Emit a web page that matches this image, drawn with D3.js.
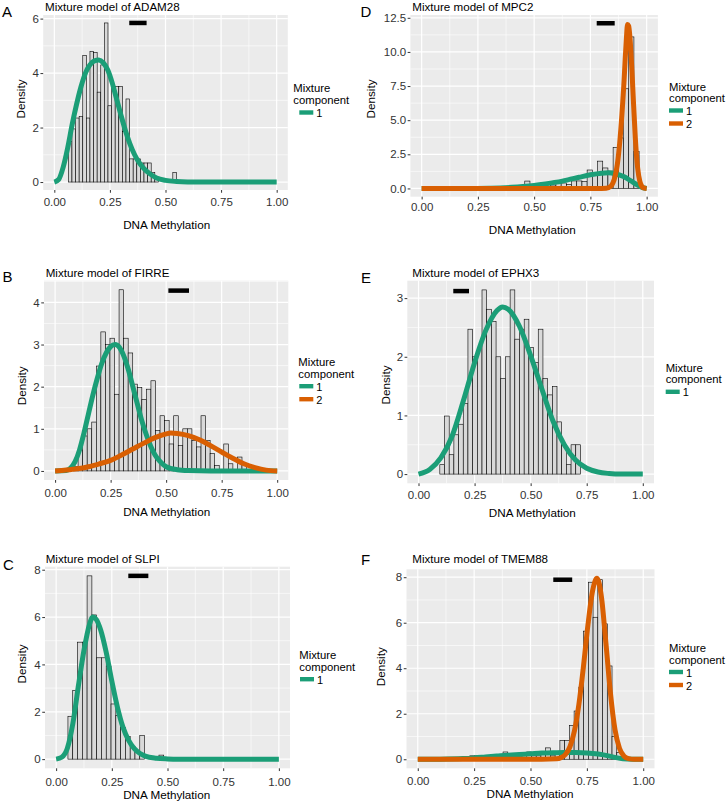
<!DOCTYPE html>
<html><head><meta charset="utf-8">
<script src="https://cdn.jsdelivr.net/npm/d3@7"></script>
<style>
body{margin:0;background:#fff;}
svg{display:block;font-family:"Liberation Sans",Arial,Helvetica,sans-serif;}
</style></head><body>
<svg id="c" width="728" height="803"></svg>
<script>
// ---------------- data ----------------
const panelLetters = ["A","B","C","D","E","F"];
const genes = ["ADAM28","FIRRE","SLPI","MPC2","EPHX3","TMEM88"];
const componentNames = ["1","2"];
const xTicks = [0,0.25,0.5,0.75,1];
const xTickLabels = ["0.00","0.25","0.50","0.75","1.00"];
const yTicksA = [0,2,4,6];
const yTicksB = [0,1,2,3,4];
const yTicksC = [0,2,4,6,8];
const yTicksD = [0,2.5,5,7.5,10,12.5];
const yTicksE = [0,1,2,3];
const yTicksF = [0,2,4,6,8];
const yLabelsD = ["0.0","2.5","5.0","7.5","10.0","12.5"];

// histogram bins: first edge, width, densities
const histStart = [0.0631, 0.083, 0.053, 0.2735, 0.095, 0.231];
const histWidth = [0.0162, 0.0205, 0.0215, 0.0231, 0.0209, 0.02102];
const densA = [1.5,1.95,2.35,2.4,4.65,2.35,4.8,4.75,3.3,4.3,5.84,2.8,3.5,3.5,3.5,1.85,3.05,0.85,0.85,0.85,0.7,0.7,0.7,0.35,0.15,0,0,0,0,0.35];
const densB = [0.1,0.5,0.83,1.0,1.16,2.49,3.3,3.0,3.15,1.82,4.3,3.15,2.8,2.06,1.98,1.7,1.94,2.14,0.96,1.31,1.2,0.64,1.31,0.6,1.0,1.0,0.72,0.57,1.31,0.72,0.41,0.13,0,0.64,0.17,0,0.33,0.17];
const densC = [1.81,2.9,4.94,4.94,7.74,6.09,4.28,4.28,3.93,2.33,1.85,1.34,0.96,0.54,0.32,0.99,0,0,0,0.17];
const densD = [0.12,0,0,0.1,0,0.15,0,0.12,0.54,0.12,0.25,0.4,0.3,0.25,0.4,0.4,0.3,0.55,0.55,0.5,1.35,0.96,2.0,1.5,1.27,3.0,3.7,7.3,11.1,2.7];
const densE = [0.16,0.99,0.33,0.67,0.85,1.2,2.47,2.0,2.16,3.14,2.81,2.6,2.0,1.63,2.0,3.14,2.3,2.47,2.64,2.16,1.9,2.47,1.63,1.35,1.49,0.89,0.5,0.16,0.5,0.5];
const densF = [0.15,0.15,0,0,0.15,0,0,0.32,0,0.15,0.15,0,0.32,0.15,0.15,0.28,0.5,0.15,0.3,0.83,0.83,1.49,2.12,3.17,5.63,7.78,6.24,7.89,5.95,4.1,1.0,0.3];

// mixture component curves: [x, density]
const comp1A = [[0,0],[0.02,0.1],[0.04,0.55],[0.06,1.25],[0.08,2.1],[0.1,2.85],[0.12,3.5],[0.14,4.0],[0.16,4.3],[0.18,4.45],[0.2,4.48],[0.22,4.38],[0.24,4.12],[0.26,3.65],[0.28,3.05],[0.3,2.45],[0.32,1.88],[0.34,1.4],[0.36,1.02],[0.38,0.73],[0.4,0.52],[0.43,0.3],[0.46,0.15],[0.5,0.06],[0.55,0.02],[0.6,0.005],[0.7,0],[1,0]];
const comp1B = [[0,0],[0.05,0.01],[0.07,0.07],[0.09,0.22],[0.11,0.5],[0.13,0.9],[0.15,1.35],[0.17,1.8],[0.19,2.2],[0.21,2.55],[0.23,2.8],[0.25,2.95],[0.27,3.0],[0.29,2.93],[0.31,2.72],[0.33,2.4],[0.35,2.0],[0.37,1.6],[0.39,1.2],[0.41,0.87],[0.43,0.59],[0.45,0.38],[0.47,0.24],[0.5,0.1],[0.55,0.03],[0.6,0.01],[0.7,0],[1,0]];
const comp2B = [[0,0],[0.05,0.02],[0.1,0.05],[0.15,0.1],[0.2,0.17],[0.25,0.25],[0.3,0.38],[0.35,0.52],[0.4,0.66],[0.45,0.79],[0.5,0.88],[0.52,0.9],[0.55,0.89],[0.6,0.84],[0.65,0.74],[0.7,0.6],[0.75,0.45],[0.8,0.3],[0.85,0.17],[0.9,0.08],[0.95,0.02],[1,0]];
const comp1C = [[0,0],[0.025,0.08],[0.05,0.45],[0.075,1.5],[0.1,3.1],[0.125,4.6],[0.15,5.7],[0.165,6.0],[0.18,5.9],[0.2,5.45],[0.225,4.5],[0.25,3.3],[0.275,2.2],[0.3,1.35],[0.325,0.8],[0.35,0.45],[0.375,0.25],[0.4,0.13],[0.45,0.04],[0.5,0.01],[0.55,0],[1,0]];
const comp1D = [[0,0],[0.2,0],[0.3,0.02],[0.35,0.04],[0.4,0.08],[0.45,0.14],[0.5,0.22],[0.55,0.33],[0.6,0.46],[0.65,0.63],[0.7,0.82],[0.75,1.0],[0.8,1.12],[0.83,1.15],[0.86,1.08],[0.9,0.85],[0.93,0.55],[0.96,0.25],[0.98,0.08],[1,0]];
const comp2D = [[0,0],[0.78,0],[0.82,0.02],[0.84,0.15],[0.85,0.4],[0.86,0.9],[0.87,1.8],[0.88,3.3],[0.89,5.4],[0.9,8.0],[0.905,9.6],[0.91,11.0],[0.915,12.0],[0.92,11.9],[0.925,11.2],[0.93,10.0],[0.935,8.5],[0.94,6.8],[0.95,3.6],[0.96,1.5],[0.97,0.5],[0.98,0.12],[0.99,0.02],[1,0]];
const comp1E = [[0,0],[0.05,0.08],[0.1,0.28],[0.15,0.65],[0.2,1.25],[0.25,1.9],[0.3,2.45],[0.35,2.79],[0.375,2.85],[0.4,2.81],[0.45,2.52],[0.5,2.02],[0.55,1.45],[0.6,0.9],[0.65,0.5],[0.7,0.24],[0.75,0.1],[0.8,0.035],[0.85,0.01],[0.9,0],[1,0]];
const comp1F = [[0,0],[0.1,0.005],[0.2,0.03],[0.25,0.06],[0.3,0.1],[0.35,0.14],[0.4,0.18],[0.45,0.21],[0.5,0.24],[0.55,0.27],[0.6,0.29],[0.65,0.3],[0.7,0.3],[0.75,0.28],[0.8,0.23],[0.85,0.14],[0.88,0.07],[0.91,0.02],[0.95,0],[1,0]];
const comp2F = [[0,0],[0.55,0],[0.615,0.02],[0.635,0.07],[0.655,0.21],[0.675,0.55],[0.695,1.25],[0.715,2.44],[0.735,4.09],[0.755,5.92],[0.775,7.38],[0.795,7.95],[0.815,7.1],[0.835,5.05],[0.855,2.87],[0.875,1.29],[0.895,0.47],[0.915,0.135],[0.935,0.03],[0.96,0],[1,0]];

// black range bars
const segX1 = [0.337,0.51,0.324,0.778,0.155,0.601];
const segX2 = [0.415,0.603,0.414,0.858,0.225,0.685];
const segY  = [5.84,4.28,7.74,12.1,3.12,7.89];

// ---------------- layout (pixels) ----------------
const layout = [
 {L:43.2,R:287.8,T:15,B:190,letter:[2,16.7],title:[45,11],xlab:[166.7,229.3],xtick:205.5,ylab:[20.7,99],leg:{x:293.3,y1:92.3,y2:104,k:[112.5],kx:299.3}},
 {L:44,R:288.3,T:280.7,B:480,letter:[2.5,281.5],title:[45.7,277.3],xlab:[166.7,515.7],xtick:496.5,ylab:[21.7,385.8],leg:{x:298.3,y1:366,y2:377.7,k:[386.2,399.2],kx:299.3}},
 {L:45,R:290,T:566.7,B:768.3,letter:[3,570],title:[45.7,563.3],xlab:[166.7,799.3],xtick:786,ylab:[21.7,664],leg:{x:299.3,y1:659,y2:670.7,k:[679.2],kx:300}},
 {L:410.4,R:657.9,T:15,B:196.7,letter:[360.5,16.7],title:[412.3,11],xlab:[532.3,234.3],xtick:211,ylab:[370.7,99],leg:{x:669,y1:90.5,y2:102,k:[110.5,123.5],kx:669}},
 {L:407.3,R:654,T:280.7,B:483.3,letter:[361,283],title:[412.3,277.3],xlab:[532.3,516.7],xtick:499.5,ylab:[385.7,385],leg:{x:665.7,y1:372,y2:383.3,k:[391.8],kx:665.7}},
 {L:406.5,R:654.5,T:569.3,B:768.3,letter:[361,565],title:[412.3,562.7],xlab:[530,798.3],xtick:785,ylab:[380.7,666.7],leg:{x:669,y1:652,y2:663.5,k:[672,685],kx:669}}
];

const colors = ["#1b9e77","#d95f02"];
const panels = [
 {dens:densA, comps:[comp1A], yTicks:yTicksA, yLabels:yTicksA.map(String)},
 {dens:densB, comps:[comp1B,comp2B], yTicks:yTicksB, yLabels:yTicksB.map(String)},
 {dens:densC, comps:[comp1C], yTicks:yTicksC, yLabels:yTicksC.map(String)},
 {dens:densD, comps:[comp1D,comp2D], yTicks:yTicksD, yLabels:yLabelsD},
 {dens:densE, comps:[comp1E], yTicks:yTicksE, yLabels:yTicksE.map(String)},
 {dens:densF, comps:[comp1F,comp2F], yTicks:yTicksF, yLabels:yTicksF.map(String)}
];

const svg = d3.select("#c");
const FS = 11.5;

panels.forEach((p, i) => {
  const lay = layout[i];
  const allY = p.dens.concat(...p.comps.map(c => c.map(d => d[1])), [segY[i]]);
  const ymax = d3.max(allY);
  const x = d3.scaleLinear().domain([-0.05, 1.05]).range([lay.L, lay.R]);
  const y = d3.scaleLinear().domain([-0.05*ymax, 1.05*ymax]).range([lay.B, lay.T]);
  const g = svg.append("g");

  g.append("rect").attr("x",lay.L).attr("y",lay.T)
   .attr("width",lay.R-lay.L).attr("height",lay.B-lay.T).attr("fill","#ebebeb");

  // grid
  const ystep = p.yTicks[1]-p.yTicks[0];
  const yMinor = [p.yTicks[0]-ystep/2].concat(p.yTicks.map(t=>t+ystep/2))
     .filter(v => v>y.domain()[0] && v<y.domain()[1]);
  const xMinor = [0.125,0.375,0.625,0.875];
  g.selectAll(".ymin").data(yMinor).join("line")
   .attr("x1",lay.L).attr("x2",lay.R).attr("y1",d=>y(d)).attr("y2",d=>y(d))
   .attr("stroke","#fff").attr("stroke-width",0.6);
  g.selectAll(".xmin").data(xMinor).join("line")
   .attr("y1",lay.T).attr("y2",lay.B).attr("x1",d=>x(d)).attr("x2",d=>x(d))
   .attr("stroke","#fff").attr("stroke-width",0.6);
  g.selectAll(".ymaj").data(p.yTicks).join("line")
   .attr("x1",lay.L).attr("x2",lay.R).attr("y1",d=>y(d)).attr("y2",d=>y(d))
   .attr("stroke","#fff").attr("stroke-width",1.2);
  g.selectAll(".xmaj").data(xTicks).join("line")
   .attr("y1",lay.T).attr("y2",lay.B).attr("x1",d=>x(d)).attr("x2",d=>x(d))
   .attr("stroke","#fff").attr("stroke-width",1.2);

  // histogram
  const bins = p.dens.map((h,j) => ({x0: histStart[i]+j*histWidth[i], x1: histStart[i]+(j+1)*histWidth[i], h}));
  g.selectAll(".bar").data(bins).join("rect")
   .attr("x",d=>x(d.x0)).attr("width",d=>x(d.x1)-x(d.x0))
   .attr("y",d=>y(d.h)).attr("height",d=>y(0)-y(d.h))
   .attr("fill","#d9d9d9").attr("stroke","#000").attr("stroke-width",0.6);

  // curves
  const line = d3.line().x(d=>x(d[0])).y(d=>y(d[1])).curve(d3.curveMonotoneX);
  p.comps.forEach((c,k) => {
    g.append("path").attr("d",line(c)).attr("fill","none")
     .attr("stroke",colors[k]).attr("stroke-width",5).attr("stroke-linejoin","round");
  });

  // black range segment
  g.append("line").attr("x1",x(segX1[i])).attr("x2",x(segX2[i]))
   .attr("y1",y(segY[i])).attr("y2",y(segY[i]))
   .attr("stroke","#000").attr("stroke-width",4.5);

  // axes
  const ax = g.append("g").attr("transform",`translate(${lay.L},0)`)
   .call(d3.axisLeft(y).tickValues(p.yTicks).tickFormat((d,j)=>p.yLabels[j]).tickSize(2.75).tickPadding(1.5));
  const bx = g.append("g").attr("transform",`translate(0,${lay.B})`)
   .call(d3.axisBottom(x).tickValues(xTicks).tickFormat((d,j)=>xTickLabels[j]).tickSize(2.75)
     .tickPadding(lay.xtick-lay.B-2.75-0.71*FS));
  [ax,bx].forEach(a => {
    a.select(".domain").remove();
    a.selectAll("line").attr("stroke","#333").attr("stroke-width",1);
    a.selectAll("text").attr("fill","#333").style("font-size",FS+"px").style("font-family","'Liberation Sans',Arial,sans-serif");
  });

  // texts
  g.append("text").attr("x",lay.letter[0]).attr("y",lay.letter[1]).text(panelLetters[i])
   .style("font-size","15px").attr("fill","#000");
  g.append("text").attr("x",lay.title[0]).attr("y",lay.title[1]).text("Mixture model of "+genes[i])
   .style("font-size","11.6px").attr("fill","#000");
  g.append("text").attr("x",lay.xlab[0]).attr("y",lay.xlab[1]).attr("text-anchor","middle")
   .text("DNA Methylation").style("font-size","11.7px").attr("fill","#000");
  g.append("text").attr("transform",`translate(${lay.ylab[0]},${lay.ylab[1]}) rotate(-90)`)
   .attr("text-anchor","middle").attr("dominant-baseline","central")
   .text("Density").style("font-size","11.7px").attr("fill","#000");

  // legend
  const lg = lay.leg;
  g.append("text").attr("x",lg.x).attr("y",lg.y1).text("Mixture").style("font-size","11.3px");
  g.append("text").attr("x",lg.x).attr("y",lg.y2).text("component").style("font-size","11.3px");
  p.comps.forEach((c,k) => {
    g.append("rect").attr("x",lg.kx).attr("y",lg.k[k]-2.2).attr("width",14).attr("height",4.4)
     .attr("fill",colors[k]);
    g.append("text").attr("x",lg.kx+17).attr("y",lg.k[k]+0.5).attr("dominant-baseline","central")
     .text(componentNames[k]).style("font-size","11px");
  });
});
</script>
</body></html>
